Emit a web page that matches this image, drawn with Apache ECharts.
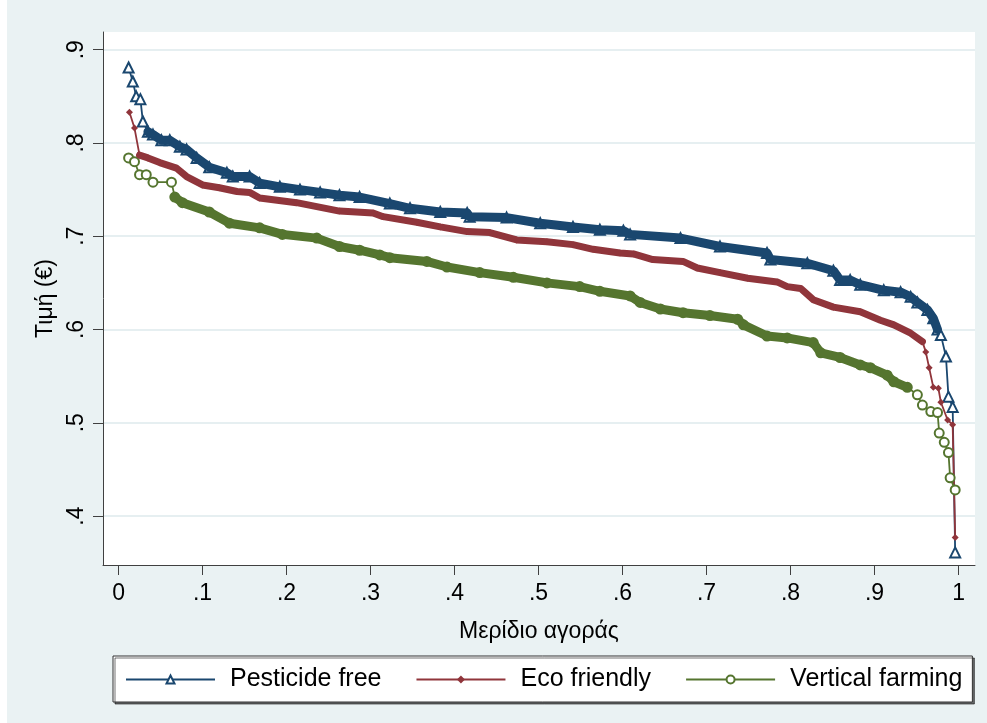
<!DOCTYPE html>
<html>
<head>
<meta charset="utf-8">
<script src="https://cdn.jsdelivr.net/npm/echarts@6/dist/echarts.min.js"></script>
<style>
  html, body { margin: 0; padding: 0; background: #fff; }
  #main { width: 987px; height: 723px; }
</style>
</head>
<body>
<div id="main"></div>
<script>
// tick labels
var xTicks = [0, 0.1, 0.2, 0.3, 0.4, 0.5, 0.6, 0.7, 0.8, 0.9, 1];
var yTicks = [0.4, 0.5, 0.6, 0.7, 0.8, 0.9];
var names = ['Pesticide free', 'Eco friendly', 'Vertical farming'];

// [market share, price]
var pesticideFree = [
	[0.012,0.881],[0.017,0.866],[0.021,0.850],[0.026,0.847],[0.029,0.823],[0.035,0.812],
	[0.041,0.809],[0.051,0.803],[0.061,0.803],[0.073,0.796],[0.081,0.793],[0.093,0.784],
	[0.108,0.774],[0.129,0.768],[0.136,0.764],[0.156,0.764],[0.168,0.757],[0.192,0.753],
	[0.216,0.750],[0.240,0.747],[0.263,0.744],[0.287,0.742],[0.323,0.735],[0.347,0.730],
	[0.383,0.726],[0.415,0.725],[0.418,0.721],[0.462,0.720],[0.502,0.714],[0.541,0.710],
	[0.573,0.707],[0.601,0.706],[0.609,0.702],[0.669,0.698],[0.716,0.689],[0.772,0.682],
	[0.776,0.675],[0.820,0.671],[0.851,0.663],[0.859,0.653],[0.871,0.653],[0.883,0.648],
	[0.911,0.642],[0.931,0.640],[0.943,0.635],[0.951,0.629],[0.963,0.621],[0.970,0.612],
	[0.975,0.600],[0.979,0.594],[0.985,0.571],[0.988,0.528],[0.993,0.517],[0.996,0.361]
];
var ecoFriendly = [
	[0.013,0.833],[0.019,0.816],[0.025,0.787],[0.035,0.784],[0.049,0.779],[0.069,0.773],
	[0.081,0.764],[0.100,0.755],[0.120,0.752],[0.141,0.748],[0.156,0.747],[0.168,0.741],
	[0.212,0.736],[0.263,0.727],[0.303,0.725],[0.315,0.721],[0.355,0.715],[0.383,0.710],
	[0.415,0.705],[0.442,0.704],[0.474,0.696],[0.510,0.694],[0.541,0.691],[0.565,0.686],
	[0.597,0.682],[0.613,0.681],[0.636,0.675],[0.672,0.673],[0.689,0.666],[0.716,0.661],
	[0.749,0.655],[0.784,0.651],[0.796,0.646],[0.812,0.644],[0.827,0.632],[0.851,0.624],
	[0.883,0.619],[0.907,0.610],[0.923,0.605],[0.943,0.596],[0.957,0.587],[0.961,0.576],
	[0.965,0.559],[0.970,0.538],[0.976,0.537],[0.979,0.522],[0.987,0.503],[0.993,0.498],
	[0.996,0.377]
];
var verticalFarming = [
	[0.012,0.784],[0.019,0.780],[0.025,0.766],[0.033,0.766],[0.041,0.758],[0.063,0.758],
	[0.067,0.742],[0.076,0.736],[0.108,0.726],[0.132,0.714],[0.168,0.709],[0.195,0.702],
	[0.236,0.698],[0.263,0.689],[0.287,0.685],[0.311,0.680],[0.323,0.677],[0.367,0.673],
	[0.391,0.667],[0.430,0.661],[0.470,0.656],[0.510,0.650],[0.549,0.646],[0.573,0.641],
	[0.609,0.636],[0.621,0.629],[0.645,0.622],[0.672,0.618],[0.704,0.615],[0.737,0.611],
	[0.744,0.605],[0.772,0.593],[0.796,0.591],[0.827,0.586],[0.836,0.575],[0.859,0.570],
	[0.883,0.562],[0.895,0.559],[0.915,0.551],[0.923,0.544],[0.939,0.538],[0.951,0.530],
	[0.957,0.519],[0.967,0.512],[0.975,0.511],[0.977,0.489],[0.983,0.479],[0.988,0.468],
	[0.990,0.441],[0.996,0.428]
];

var navy = '#1a476f', maroon = '#90353b', forest = '#55752f';
var font = 'Liberation Sans, Arial, sans-serif';

function shortNum(v) {
	if (v === 0) return '0';
	if (v === 1) return '1';
	return String(v).replace(/^0/, '');
}

var main = document.getElementById('main');
var myChart = echarts.init(main);

var option = {
	backgroundColor: '#eaf2f3',
	animation: false,
	graphic: [{
		type: 'rect',
		left: 0, top: 0,
		shape: { width: 7, height: 723 },
		style: { fill: '#fff' },
		silent: true
	}],
	grid: {
		left: 103,
		right: 12,
		top: 32,
		bottom: 158,
		show: true,
		backgroundColor: '#fff',
		borderWidth: 0
	},
	xAxis: {
		type: 'value',
		min: -0.0185,
		max: 1.0196,
		name: 'Μερίδιο αγοράς',
		nameLocation: 'middle',
		nameGap: 55,
		nameTextStyle: { color: '#000', fontSize: 23, fontFamily: font },
		axisLine: { show: true, onZero: false, lineStyle: { color: '#404040', width: 1 } },
		axisTick: { show: true, length: 10, customValues: xTicks, lineStyle: { color: '#404040' } },
		axisLabel: {
			customValues: xTicks,
			color: '#000', fontSize: 23, fontFamily: font, margin: 17,
			formatter: shortNum
		},
		splitLine: { show: false }
	},
	yAxis: {
		type: 'value',
		min: 0.3475,
		max: 0.919,
		name: 'Τιμή (€)',
		nameLocation: 'middle',
		nameGap: 40,
		nameTextStyle: { color: '#000', fontSize: 23, fontFamily: font },
		axisLine: { show: true, onZero: false, lineStyle: { color: '#404040', width: 1 } },
		axisTick: { show: true, length: 10, customValues: yTicks, lineStyle: { color: '#404040' } },
		axisLabel: {
			customValues: yTicks,
			rotate: 90,
			color: '#000', fontSize: 23, fontFamily: font, margin: 15,
			formatter: shortNum
		},
		splitLine: { show: true, lineStyle: { color: '#e6eff1', width: 2 } }
	},
	legend: {
		data: names,
		left: 113,
		top: 656,
		padding: [11, 10, 10, 12],
		itemGap: 34,
		itemWidth: 89,
		itemHeight: 10,
		backgroundColor: '#fff',
		borderColor: '#333',
		borderWidth: 1,
		shadowColor: 'rgba(0,0,0,0.55)',
		shadowOffsetX: 2,
		shadowOffsetY: 2,
		shadowBlur: 0,
		textStyle: { color: '#000', fontSize: 25, fontFamily: font, padding: [0, 0, 0, 10] }
	},
	series: [{
		name: names[0],
		type: 'line',
		data: pesticideFree,
		symbol: 'emptyTriangle',
		symbolSize: 10,
		itemStyle: { color: navy, borderWidth: 1.6 },
		lineStyle: { color: navy, width: 1.8 }
	}, {
		name: names[1],
		type: 'line',
		data: ecoFriendly,
		symbol: 'diamond',
		symbolSize: 7,
		itemStyle: { color: maroon },
		lineStyle: { color: maroon, width: 1.8 }
	}, {
		name: names[2],
		type: 'line',
		data: verticalFarming,
		symbol: 'emptyCircle',
		symbolSize: 9,
		itemStyle: { color: forest, borderWidth: 1.6 },
		lineStyle: { color: forest, width: 1.8 }
	}, {
		// dense middle part: markers overlap into a solid band
		name: 'band1',
		type: 'line',
		z: 5,
		data: pesticideFree.slice(5, 49),
		symbol: 'none',
		lineStyle: { color: navy, width: 9, join: 'round', cap: 'round' }
	}, {
		name: 'band2',
		type: 'line',
		z: 5,
		data: ecoFriendly.slice(2, 41),
		symbol: 'none',
		lineStyle: { color: maroon, width: 7, join: 'round', cap: 'round' }
	}, {
		name: 'band3',
		type: 'line',
		z: 5,
		data: verticalFarming.slice(6, 41),
		symbol: 'none',
		lineStyle: { color: forest, width: 9, join: 'round', cap: 'round' }
	}]
};

myChart.setOption(option);
</script>
</body>
</html>
